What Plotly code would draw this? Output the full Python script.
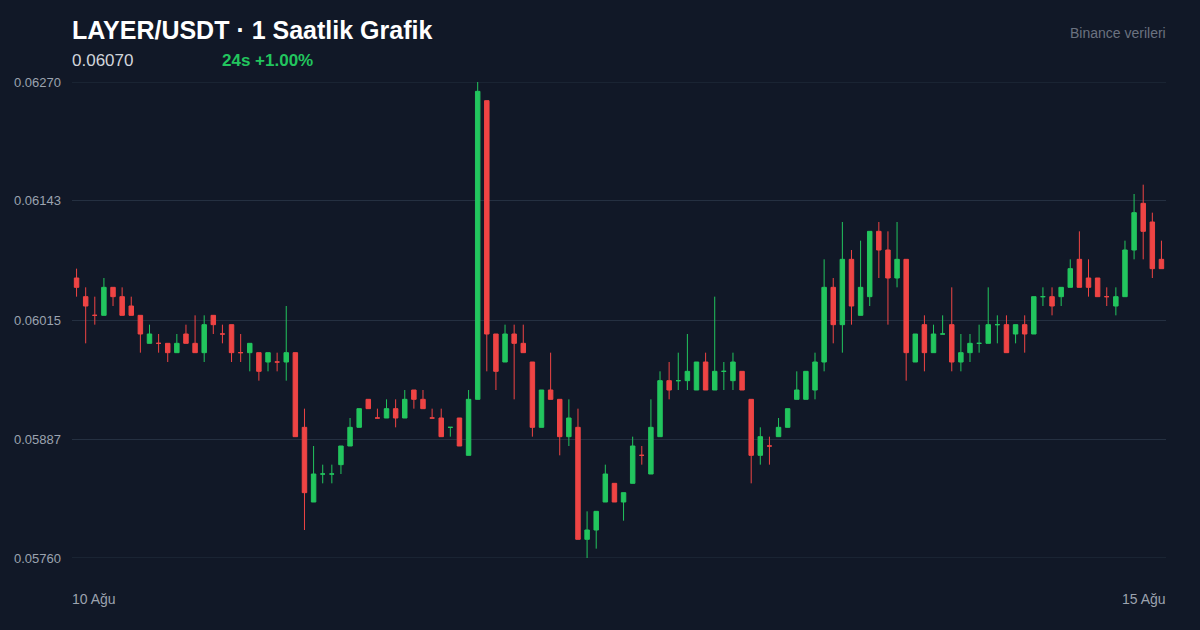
import plotly.graph_objects as go

opens = [.0606,.0604,.0602,.0602,.0605,.0604,.0603,.0602,.0599,.0599,
         .0599,.0598,.0600,.0599,.0598,.0602,.0600,.0601,.0598,.0598,
         .0598,.0597,.0597,.0597,.0598,.0590,.0582,.0585,.0585,.0586,
         .0588,.0590,.0593,.0591,.0591,.0592,.0591,.0594,.0593,.0591,
         .0591,.0590,.0591,.0587,.0593,.0625,.0600,.0597,.0600,.0599,
         .0597,.0590,.0594,.0593,.0589,.0590,.0578,.0579,.0582,.0584,
         .0582,.0584,.0587,.0585,.0589,.0595,.0595,.0595,.0594,.0597,
         .0594,.0596,.0595,.0596,.0593,.0587,.0588,.0589,.0590,.0593,
         .0593,.0594,.0597,.0605,.0601,.0608,.0602,.0604,.0611,.0609,
         .0606,.0608,.0597,.0601,.0598,.0600,.0601,.0597,.0598,.0599,
         .0599,.0601,.0601,.0600,.0601,.0600,.0604,.0604,.0604,.0605,
         .0608,.0606,.0606,.0604,.0603,.0604,.0609,.0614,.0612,.0608]
highs = [.0607,.0605,.0604,.0606,.0605,.0605,.0604,.0602,.0601,.0600,
         .0599,.0600,.0601,.0602,.0602,.0602,.0601,.0601,.0600,.0599,
         .0598,.0598,.0598,.0603,.0598,.0592,.0588,.0586,.0586,.0588,
         .0591,.0592,.0593,.0592,.0593,.0593,.0594,.0594,.0594,.0592,
         .0592,.0590,.0591,.0594,.0627,.0625,.0600,.0601,.0601,.0601,
         .0597,.0594,.0598,.0593,.0593,.0592,.0581,.0581,.0586,.0584,
         .0583,.0589,.0588,.0593,.0596,.0597,.0598,.0600,.0597,.0598,
         .0604,.0597,.0598,.0596,.0593,.0590,.0589,.0591,.0592,.0596,
         .0596,.0598,.0608,.0606,.0612,.0609,.0610,.0611,.0612,.0611,
         .0612,.0608,.0600,.0602,.0601,.0602,.0605,.0600,.0600,.0601,
         .0605,.0602,.0602,.0601,.0602,.0604,.0605,.0605,.0605,.0608,
         .0611,.0608,.0606,.0605,.0605,.0610,.0615,.0616,.0613,.0610]
lows = [.0604,.0599,.0601,.0602,.0603,.0602,.0602,.0598,.0599,.0598,
        .0597,.0598,.0599,.0598,.0597,.0600,.0599,.0597,.0597,.0596,
        .0595,.0596,.0596,.0595,.0589,.0579,.0582,.0584,.0584,.0585,
        .0588,.0590,.0592,.0591,.0591,.0590,.0591,.0592,.0592,.0591,
        .0589,.0589,.0588,.0587,.0593,.0596,.0594,.0597,.0593,.0598,
        .0589,.0590,.0593,.0587,.0588,.0578,.0576,.0577,.0582,.0582,
        .0580,.0584,.0586,.0585,.0589,.0593,.0594,.0594,.0594,.0594,
        .0594,.0594,.0594,.0594,.0584,.0586,.0586,.0589,.0590,.0593,
        .0593,.0593,.0596,.0599,.0598,.0601,.0602,.0603,.0606,.0601,
        .0605,.0595,.0597,.0596,.0598,.0600,.0596,.0596,.0597,.0598,
        .0599,.0599,.0598,.0599,.0598,.0600,.0603,.0602,.0603,.0605,
        .0605,.0604,.0604,.0603,.0602,.0604,.0608,.0608,.0606,.0607]
closes = [.0605,.0603,.0602,.0605,.0604,.0602,.0602,.0600,.0600,.0599,
          .0598,.0599,.0599,.0598,.0601,.0601,.0600,.0598,.0598,.0599,
          .0596,.0598,.0597,.0598,.0589,.0583,.0585,.0585,.0585,.0588,
          .0590,.0592,.0592,.0591,.0592,.0591,.0593,.0593,.0592,.0591,
          .0589,.0590,.0588,.0593,.0626,.0600,.0596,.0600,.0599,.0598,
          .0590,.0594,.0593,.0589,.0591,.0578,.0579,.0581,.0585,.0582,
          .0583,.0588,.0587,.0590,.0595,.0594,.0595,.0596,.0597,.0594,
          .0596,.0596,.0597,.0594,.0587,.0589,.0588,.0590,.0592,.0594,
          .0596,.0597,.0605,.0601,.0608,.0603,.0605,.0611,.0609,.0606,
          .0608,.0598,.0600,.0598,.0600,.0600,.0597,.0598,.0599,.0599,
          .0601,.0601,.0598,.0601,.0600,.0604,.0604,.0603,.0605,.0607,
          .0605,.0605,.0604,.0604,.0604,.0609,.0613,.0611,.0607,.0607]
ytick_vals = [0.05760, 0.05887, 0.06015, 0.06143, 0.06270]
ytick_text = ["0.05760", "0.05887", "0.06015", "0.06143", "0.06270"]
x = list(range(len(opens)))

BG = "#111827"
GRID = "#253041"
fig = go.Figure(go.Candlestick(
    x=x, open=opens, high=highs, low=lows, close=closes,
    increasing=dict(line=dict(color="#22c55e", width=1), fillcolor="#22c55e"),
    decreasing=dict(line=dict(color="#ef4444", width=1), fillcolor="#ef4444"),
    whiskerwidth=0, showlegend=False, hoverinfo="skip"))

L, R, T, B = 72, 34, 82, 72
fig.update_layout(
    width=1200, height=630, paper_bgcolor=BG, plot_bgcolor=BG,
    margin=dict(l=L, r=R, t=T, b=B),
    font=dict(family="Liberation Sans, Arial, sans-serif", color="#9ca3af"),
    xaxis=dict(range=[-0.5, len(opens) - 0.5], showgrid=False, zeroline=False,
               showticklabels=False, rangeslider=dict(visible=False), fixedrange=True),
    yaxis=dict(range=[0.05760, 0.06270], tickvals=ytick_vals, ticktext=ytick_text,
               gridcolor=GRID, gridwidth=1, zeroline=False, fixedrange=True,
               tickfont=dict(size=13, color="#9ca3af"), ticklabelstandoff=10),
)
for v in (ytick_vals[0], ytick_vals[-1]):
    fig.add_hline(y=v, line=dict(color=GRID, width=1), layer="below")

anns = [
    dict(text="<b>LAYER/USDT · 1 Saatlik Grafik</b>", x=72, y=30, size=25, color="#ffffff", xa="left"),
    dict(text="0.06070", x=72, y=61, size=17, color="#d1d5db", xa="left"),
    dict(text="<b>24s +1.00%</b>", x=222, y=61, size=17, color="#22c55e", xa="left"),
    dict(text="Binance verileri", x=1166, y=33, size=14, color="#6b7280", xa="right"),
    dict(text="10 Ağu", x=72, y=599, size=14, color="#9ca3af", xa="left"),
    dict(text="15 Ağu", x=1166, y=599, size=14, color="#9ca3af", xa="right"),
]
pw, ph = 1200 - L - R, 630 - T - B
for a in anns:
    fig.add_annotation(text=a["text"], x=(a["x"] - L) / pw, y=(630 - a["y"] - B) / ph,
                       xref="paper", yref="paper", xanchor=a["xa"], yanchor="middle",
                       xshift=-2 if a["xa"] == "left" else 2,
                       showarrow=False, font=dict(size=a["size"], color=a["color"]))
fig.write_html("out.html", config={"displayModeBar": False},
               post_script="document.body.style.margin='0';document.body.style.background='#111827';")
